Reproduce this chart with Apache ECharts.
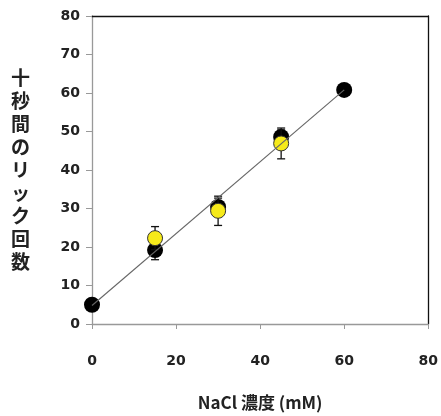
<!DOCTYPE html>
<html><head><meta charset="utf-8">
<script src="https://cdn.jsdelivr.net/npm/echarts@6/dist/echarts.min.js"></script>
<style>html,body{margin:0;padding:0;background:#fff}#c{width:441px;height:416px}</style>
</head><body><div id="c"></div>
<script>
const concentrations = [0, 15, 30, 45, 60];
const blackMeans = [5, 19.2, 30.4, 48.6, 60.8];
const blackErrLow = [5, 16.7, 28.2, 46.8, 60.8];
const blackErrHigh = [5, 21.7, 32.7, 50.4, 60.8];
const yellowConc = [15, 30, 45];
const yellowMeans = [22.3, 29.4, 46.9];
const yellowErrLow = [19.3, 25.6, 42.9];
const yellowErrHigh = [25.3, 33.2, 50.9];
const fitLineX = [0, 60];
const fitLineY = [4.8, 60.8];
const xTicks = [0, 20, 40, 60, 80];
const yTicks = [0, 10, 20, 30, 40, 50, 60, 70, 80];
const yTitle = '十秒間のリック回数';
const xTitle = 'NaCl 濃度 (mM)';

const chart = echarts.init(document.getElementById('c'));

function errSeries(xs, lo, hi, z) {
  const data = xs.map((x, i) => [x, lo[i], hi[i]]);
  return {
    type: 'custom',
    z: z,
    data: data,
    renderItem: function (params, api) {
      const x = api.value(0);
      const pLo = api.coord([x, api.value(1)]);
      const pHi = api.coord([x, api.value(2)]);
      const cap = 4;
      const st = { stroke: '#111', lineWidth: 1.3 };
      return { type: 'group', children: [
        { type: 'line', shape: { x1: pLo[0], y1: pLo[1], x2: pHi[0], y2: pHi[1] }, style: st },
        { type: 'line', shape: { x1: pLo[0] - cap, y1: pLo[1], x2: pLo[0] + cap, y2: pLo[1] }, style: st },
        { type: 'line', shape: { x1: pHi[0] - cap, y1: pHi[1], x2: pHi[0] + cap, y2: pHi[1] }, style: st }
      ] };
    }
  };
}

const labelFont = { fontFamily: 'DejaVu Sans', fontWeight: 'bold', fontSize: 14, color: '#222' };

chart.setOption({
  animation: false,
  backgroundColor: '#fff',
  grid: { left: 92, right: 10, top: 16, bottom: 85 },
  xAxis: [{
    type: 'value', min: 0, max: 80, interval: 20,
    axisLine: { onZero: false, lineStyle: { color: '#999', width: 1.3 } },
    axisTick: { show: true, length: 5, lineStyle: { color: '#999' } },
    axisLabel: Object.assign({ margin: 30, formatter: v => xTicks.includes(v) ? String(v) : '' }, labelFont),
    splitLine: { show: false },
    name: xTitle, nameLocation: 'middle', nameGap: 70,
    nameTextStyle: { fontFamily: 'Noto Sans CJK JP', fontWeight: 'bold', fontSize: 17, color: '#222' }
  }, {
    type: 'value', min: 0, max: 80, position: 'top',
    axisLine: { show: true, onZero: false, lineStyle: { color: '#111', width: 1.3 } },
    axisTick: { show: false }, axisLabel: { show: false }, splitLine: { show: false }
  }],
  yAxis: [{
    type: 'value', min: 0, max: 80, interval: 10,
    axisLine: { show: true, onZero: false, lineStyle: { color: '#999', width: 1.3 } },
    axisTick: { show: true, length: 6, lineStyle: { color: '#999' } },
    axisLabel: Object.assign({ margin: 12, formatter: v => yTicks.includes(v) ? String(v) : '' }, labelFont),
    splitLine: { show: false },
    name: yTitle.split('').join('\n'), nameLocation: 'middle', nameGap: 62, nameRotate: 0,
    nameTextStyle: { fontFamily: 'Noto Sans CJK JP', fontWeight: 'bold', fontSize: 19, lineHeight: 23, color: '#222' }
  }, {
    type: 'value', min: 0, max: 80, position: 'right',
    axisLine: { show: true, onZero: false, lineStyle: { color: '#111', width: 1.3 } },
    axisTick: { show: false }, axisLabel: { show: false }, splitLine: { show: false }
  }],
  series: [
    errSeries(concentrations, blackErrLow, blackErrHigh, 2),
    {
      type: 'scatter', z: 3,
      data: concentrations.map((x, i) => [x, blackMeans[i]]),
      symbol: 'circle', symbolSize: 16,
      itemStyle: { color: '#000', opacity: 1 }
    },
    errSeries(yellowConc, yellowErrLow, yellowErrHigh, 4),
    {
      type: 'scatter', z: 5,
      data: yellowConc.map((x, i) => [x, yellowMeans[i]]),
      symbol: 'circle', symbolSize: 15,
      itemStyle: { color: '#f6ea1a', borderColor: '#333', borderWidth: 1, opacity: 1 }
    },
    {
      type: 'line', z: 6,
      data: fitLineX.map((x, i) => [x, fitLineY[i]]),
      showSymbol: false, symbol: 'none',
      lineStyle: { color: '#666', width: 1.1 }
    }
  ]
});
</script></body></html>
